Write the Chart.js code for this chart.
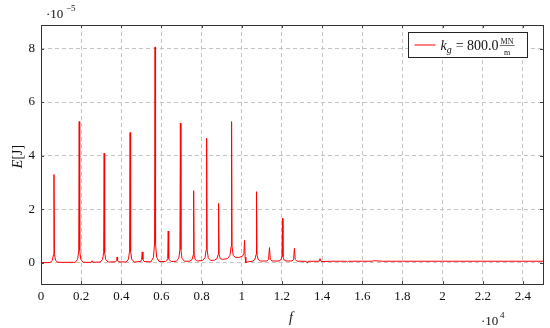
<!DOCTYPE html>
<html>
<head>
<meta charset="utf-8">
<script src="https://cdn.jsdelivr.net/npm/chart.js@4.4.1/dist/chart.umd.min.js"></script>
<style>
html,body{margin:0;padding:0;background:#fff;}
#wrap{width:550px;height:328px;}
</style>
</head>
<body>
<div id="wrap"><canvas id="c" width="550" height="328"></canvas></div>
<script>
// frequency f [Hz]
const freq = [
  0, 446, 566, 621, 646, 671, 726, 846,
  1703, 1823, 1878, 1903, 1928, 1983, 2103,
  2500, 2549, 2600,
  2945, 3065, 3120, 3145, 3170, 3225, 3345,
  3720, 3765, 3791, 3815, 3860,
  4237, 4357, 4412, 4437, 4462, 4517, 4637,
  4960, 5010, 5043, 5075, 5130,
  5480, 5600, 5655, 5680, 5705, 5760, 5880,
  6200, 6265, 6310, 6335, 6360, 6410, 6500,
  6742, 6862, 6917, 6942, 6967, 7022, 7142,
  7403, 7523, 7578, 7603, 7628, 7683, 7803,
  8049, 8169, 8224, 8249, 8274, 8329, 8449,
  8645, 8765, 8820, 8845, 8870, 8925, 9045,
  9291, 9411, 9466, 9491, 9516, 9571, 9691,
  9900, 10050, 10105, 10137, 10165, 10200, 10300,
  10533, 10653, 10708, 10733, 10758, 10813, 10933,
  11250, 11330, 11379, 11420, 11500,
  11850, 11945, 12000, 12025, 12050, 12105, 12200,
  12500, 12580, 12621, 12660, 12750,
  13200, 13267, 13300, 13850, 13898, 13950,
  14500, 15200, 15260, 15320, 16000, 16500, 16560, 17000,
  18000, 20000, 22000, 25000
];
// energy E [1e-5 J]
const energy = [
  0.00, 0.00, 0.08, 0.30, 3.29, 0.30, 0.08, 0.01,
  0.01, 0.12, 0.45, 5.27, 0.45, 0.12, 0.01,
  0.01, 0.07, 0.01,
  0.02, 0.11, 0.37, 4.09, 0.37, 0.11, 0.02,
  0.03, 0.07, 0.21, 0.07, 0.03,
  0.02, 0.13, 0.43, 4.86, 0.43, 0.13, 0.02,
  0.04, 0.12, 0.40, 0.12, 0.04,
  0.03, 0.20, 0.70, 8.06, 0.70, 0.20, 0.04,
  0.04, 0.08, 0.15, 1.18, 0.15, 0.08, 0.04,
  0.05, 0.16, 0.48, 5.21, 0.48, 0.16, 0.05,
  0.05, 0.11, 0.28, 2.69, 0.28, 0.11, 0.06,
  0.08, 0.18, 0.48, 4.65, 0.48, 0.18, 0.08,
  0.09, 0.15, 0.30, 2.21, 0.30, 0.15, 0.12,
  0.15, 0.27, 0.60, 5.27, 0.60, 0.27, 0.19,
  0.20, 0.25, 0.35, 0.83, 0.20, 0.00, 0.03,
  0.05, 0.12, 0.30, 2.65, 0.30, 0.12, 0.06,
  0.06, 0.12, 0.56, 0.12, 0.06,
  0.06, 0.10, 0.22, 1.65, 0.22, 0.10, 0.06,
  0.06, 0.12, 0.53, 0.12, 0.05,
  0.05, -0.02, 0.05, 0.05, 0.15, 0.04,
  0.05, 0.05, 0.02, 0.05, 0.05, 0.05, 0.07, 0.05,
  0.05, 0.05, 0.05, 0.05
];
const xTicks = [0, 2000, 4000, 6000, 8000, 10000, 12000, 14000, 16000, 18000, 20000, 22000, 24000];
const xTickLabels = ['0', '0.2', '0.4', '0.6', '0.8', '1', '1.2', '1.4', '1.6', '1.8', '2', '2.2', '2.4'];
const yTicks = [0, 2, 4, 6, 8];
const yTickLabels = ['0', '2', '4', '6', '8'];
const seriesLabel = 'k_g = 800.0 MN/m';

const SERIF = '"Liberation Serif", "DejaVu Serif", serif';
const points = freq.map((f, i) => ({x: f, y: energy[i]}));

const textPlugin = {
  id: 'texts',
  afterDraw(chart) {
    const ctx = chart.ctx;
    const a = chart.chartArea;
    ctx.save();
    // frame
    ctx.strokeStyle = '#333';
    ctx.lineWidth = 1;
    ctx.strokeRect(Math.round(a.left) + 0.5, Math.round(a.top) + 0.5, Math.round(a.right - a.left), Math.round(a.bottom - a.top));
    // inner tick marks
    const xs = chart.scales.x, ys = chart.scales.y;
    ctx.strokeStyle = '#444';
    ctx.beginPath();
    xTicks.forEach(v => {
      const px = Math.round(xs.getPixelForValue(v)) + 0.5;
      ctx.moveTo(px, a.bottom); ctx.lineTo(px, a.bottom - 3);
      ctx.moveTo(px, a.top); ctx.lineTo(px, a.top + 3);
    });
    yTicks.forEach(v => {
      const py = Math.round(ys.getPixelForValue(v)) + 0.5;
      ctx.moveTo(a.left, py); ctx.lineTo(a.left + 3, py);
      ctx.moveTo(a.right, py); ctx.lineTo(a.right - 3, py);
    });
    ctx.stroke();

    ctx.fillStyle = '#111';
    ctx.textBaseline = 'alphabetic';
    // y multiplier
    ctx.font = '13px ' + SERIF;
    ctx.textAlign = 'left';
    ctx.fillText('\u00B710', 46, 18);
    ctx.font = '9px ' + SERIF;
    ctx.fillText('\u22125', 66, 11);
    // x multiplier
    ctx.font = '13px ' + SERIF;
    ctx.fillText('\u00B710', 481, 325);
    ctx.font = '9px ' + SERIF;
    ctx.fillText('4', 500, 318);
    // x title
    ctx.font = 'italic 14px ' + SERIF;
    ctx.textAlign = 'center';
    ctx.fillText('f', (a.left + a.right) / 2 - 1, 322);
    // y title
    ctx.save();
    ctx.translate(18, (a.top + a.bottom) / 2 + 2);
    ctx.rotate(-Math.PI / 2);
    ctx.textAlign = 'left';
    ctx.font = 'italic 14px ' + SERIF;
    const w1 = ctx.measureText('E').width;
    ctx.font = '14px ' + SERIF;
    const w2 = ctx.measureText('[J]').width;
    const start = -(w1 + w2) / 2;
    ctx.font = 'italic 14px ' + SERIF;
    ctx.fillText('E', start, 4);
    ctx.font = '14px ' + SERIF;
    ctx.fillText('[J]', start + w1, 4);
    ctx.restore();

    // legend
    const bx = 408.5, by = 32.5, bw = 119, bh = 25;
    ctx.fillStyle = '#fff';
    ctx.fillRect(bx, by, bw, bh);
    ctx.strokeStyle = '#222';
    ctx.lineWidth = 1;
    ctx.strokeRect(bx, by, bw, bh);
    ctx.strokeStyle = '#ff0000';
    ctx.beginPath();
    ctx.moveTo(bx + 6, by + 12.5); ctx.lineTo(bx + 27, by + 12.5);
    ctx.stroke();
    ctx.fillStyle = '#111';
    ctx.textAlign = 'left';
    let tx = bx + 32;
    const ty = by + 17;
    ctx.font = 'italic 14px ' + SERIF;
    ctx.fillText('k', tx, ty); tx += ctx.measureText('k').width;
    ctx.font = 'italic 10px ' + SERIF;
    ctx.fillText('g', tx, ty + 3); tx += ctx.measureText('g').width + 4;
    ctx.font = '14px ' + SERIF;
    ctx.fillText('= 800.0', tx, ty); tx += ctx.measureText('= 800.0').width + 1;
    ctx.font = '8px ' + SERIF;
    const fw = ctx.measureText('MN').width;
    ctx.textAlign = 'center';
    ctx.fillText('MN', tx + fw / 2 + 1, ty - 6);
    ctx.fillText('m', tx + fw / 2 + 1, ty + 5);
    ctx.beginPath();
    ctx.strokeStyle = '#111';
    ctx.lineWidth = 0.6;
    ctx.moveTo(tx, ty - 4); ctx.lineTo(tx + fw + 2, ty - 4);
    ctx.stroke();
    ctx.restore();
  }
};

new Chart(document.getElementById('c'), {
  type: 'line',
  data: {
    datasets: [{
      label: seriesLabel,
      data: points,
      borderColor: '#ff0000',
      borderWidth: 1,
      pointRadius: 0,
      tension: 0,
      fill: false
    }]
  },
  options: {
    responsive: false,
    animation: false,
    layout: {padding: {left: 0, right: 7, top: 25, bottom: 0}},
    plugins: {legend: {display: false}, tooltip: {enabled: false}},
    scales: {
      x: {
        type: 'linear',
        min: 0,
        max: 25000,
        afterBuildTicks: s => { s.ticks = xTicks.map(v => ({value: v})); },
        afterFit: s => { s.height = 44; },
        ticks: {
          autoSkip: false,
          maxRotation: 0,
          padding: 5,
          color: '#111',
          font: {family: SERIF, size: 13},
          callback: (v) => { const i = xTicks.indexOf(v); return i >= 0 ? xTickLabels[i] : ''; }
        },
        grid: {color: '#c4c4c4', drawTicks: false, lineWidth: 1},
        border: {display: false, dash: [4, 3]}
      },
      y: {
        min: -0.8,
        max: 8.88,
        afterBuildTicks: s => { s.ticks = yTicks.map(v => ({value: v})); },
        afterFit: s => { s.width = 41; },
        ticks: {
          padding: 6,
          color: '#111',
          font: {family: SERIF, size: 13},
          callback: (v) => { const i = yTicks.indexOf(v); return i >= 0 ? yTickLabels[i] : ''; }
        },
        grid: {color: '#c4c4c4', drawTicks: false, lineWidth: 1},
        border: {display: false, dash: [4, 3]}
      }
    }
  },
  plugins: [textPlugin]
});
</script>
</body>
</html>
